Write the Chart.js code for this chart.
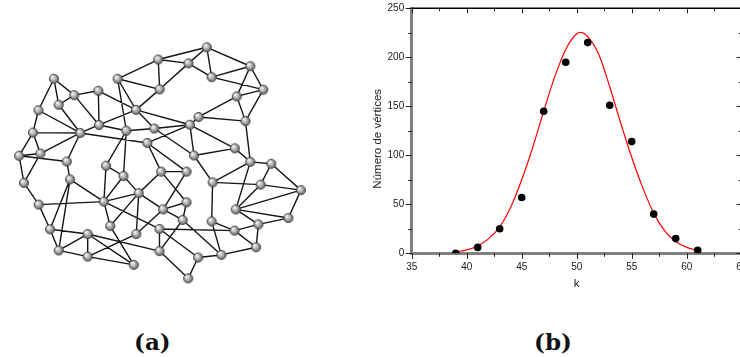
<!DOCTYPE html>
<html><head><meta charset="utf-8">
<script src="https://cdn.jsdelivr.net/npm/chart.js@4.4.1/dist/chart.umd.min.js"></script>
<style>
html,body{margin:0;padding:0;background:#fff;width:740px;height:357px;overflow:hidden;position:relative}
#net{position:absolute;left:0;top:0}
#plot{position:absolute;left:330px;top:0}
.cap{position:absolute;font-family:"DejaVu Serif",serif;font-weight:bold;font-size:23px;line-height:1;color:#111;white-space:nowrap}
</style></head><body>
<canvas id="net" width="330" height="300"></canvas>
<canvas id="plot" width="430" height="300"></canvas>
<div class="cap" style="left:134px;top:330px">(a)</div>
<div class="cap" style="left:534px;top:330px">(b)</div>
<script>
// ---------- (a) network: node layout positions and edge list ----------
const nodeNames = ['A','B','C','D','E','F','G','H','I','J','K','L','M','N','O','P','Q','R','S','T','U','V','W','X','Y','Z',
  'a','b','c','d','e','f','g','h','i','j','k','l','m','n','o','p','q','r','s','t','u','v','w','x','y','z',
  'AA','AB','AC','AD','AE','AF','AG','AH','AI','AJ','AK','AL'];
const nodeX = [50,71,96,55,34,116,158,159.5,135,96.7,77.3,28.3,125,154,146.7,36,14,63.3,104,122,66.7,19,137.8,101.7,34.3,108.3,
  46,85,135.3,55,85,132.7,208.3,189.3,213.3,253.3,266.7,239.3,199.8,248.3,190.8,237.3,195,253.3,275,161,187.3,214.3,264,305.7,163,187.3,
  238.3,183.3,213.3,292.7,159.3,237,261.7,159.3,199.3,223.3,259.3,189];
const nodeY = [76,93,88.5,103,108.7,76,56,87,108.3,124,132.3,132,130,127.7,142.7,153.7,156,162,166.3,177,180.5,184.2,194.8,203.6,206.7,229,
  232.3,237.3,237.3,254.3,260.7,269.3,43.3,60,74.3,63,87.3,94.3,115.7,120,123.8,148.3,155.7,162.3,164.3,172.5,172.5,183.6,186,191.7,211.7,204.3,
  211.7,222.7,224.2,220.7,232,233.7,227.3,255,261.7,259,251,283.3];
const edgeList = ['A-B','A-D','A-E','B-C','B-D','B-J','C-J','C-I','D-K','E-K','E-L','L-K','L-P','L-Q','J-I','J-M','J-K',
  'F-G','F-H','F-I','F-M','H-I','I-N','I-o','K-O','K-R','P-K','M-N','M-S','M-T','N-o','N-q','O-o','O-t','O-u',
  'P-Q','Q-R','Q-V','P-V','R-U','V-Y','U-X','U-a','U-d','Y-X','Y-a','S-T','S-X','X-T','X-W','T-W','X-Z','Z-f','X-AE',
  'W-Z','W-c','W-t','W-y','c-y','a-b','a-d','b-d','b-e','d-e','e-f','b-f','b-AH','e-c',
  'G-g','G-h','G-H','g-h','g-i','g-j','h-i','h-H','i-j','i-k','j-k','j-l','l-k','l-m','k-n','l-n','m-n',
  'o-m','o-q','o-p','q-p','n-r','p-r','q-v','t-u','t-z','u-y','y-z','z-AB','y-AB','v-AC','v-r','v-w',
  'r-AA','r-s','s-w','s-x','w-x','AA-x','AA-w','AA-AD','AA-AG','x-AD','AD-AG','AG-AK','AF-AG','AF-AK','AF-AC',
  'AE-AF','AC-AJ','AJ-AK','AI-AJ','AI-AL','AH-AL','AH-AE','AH-AB','AE-AI','AB-AJ'];

// ---------- (b) degree distribution ----------
const kValues = [39,41,43,45,47,49,51,53,55,57,59,61];
const vertexCounts = [0,6,25,57,145,195,215,151,114,40,15,3];
const fitK = [39,40,41,42,43,44,45,46,47,48,49,50,50.4,51,52,53,54,55,56,57,58,59,60,61];
const fitCounts = [1.5,3.5,7.5,15,27,47,75,108,145,180,208,224,225.5,221,203,170,133,98,67,41,23,12,6,3];
const xTickValues = [35,40,45,50,55,60,65];
const yTickValues = [0,50,100,150,200,250];
const xTitle = 'k';
const yTitle = 'Número de vértices';

// ---------- network chart ----------
function makeNodeSprite(r){
  const s = Math.ceil(r*2+2);
  const c = document.createElement('canvas'); c.width = c.height = s;
  const g = c.getContext('2d'); const cx = s/2, cy = s/2;
  const grad = g.createRadialGradient(cx-r*0.4, cy-r*0.45, r*0.1, cx, cy, r);
  grad.addColorStop(0, '#f7f7f7'); grad.addColorStop(0.45, '#bdbdbd'); grad.addColorStop(1, '#5e5e5e');
  g.beginPath(); g.arc(cx, cy, r, 0, Math.PI*2); g.fillStyle = grad; g.fill();
  g.lineWidth = 0.8; g.strokeStyle = '#3a3a3a'; g.stroke();
  return c;
}
const idx = {}; nodeNames.forEach((n,i)=>{ idx[n] = i; });
const edgeData = [];
edgeList.forEach(e=>{
  const [a,b] = e.split('-'); const i = idx[a], j = idx[b];
  edgeData.push({x:nodeX[i], y:nodeY[i]}, {x:nodeX[j], y:nodeY[j]}, {x:nodeX[j], y:null});
});
const nodeData = nodeX.map((x,i)=>({x, y:nodeY[i]}));

new Chart(document.getElementById('net'), {
  type: 'scatter',
  data: { datasets: [
    { data: nodeData, pointStyle: makeNodeSprite(4.6), pointRadius: 4.6, order: 0 },
    { data: edgeData, showLine: true, spanGaps: false, pointRadius: 0, borderColor: '#151515', borderWidth: 1.4, order: 1 }
  ]},
  options: {
    responsive: false, animation: false, events: [],
    plugins: { legend: { display: false }, tooltip: { enabled: false } },
    layout: { padding: 0 },
    scales: {
      x: { type: 'linear', display: false, min: 0, max: 330 },
      y: { type: 'linear', display: false, min: 0, max: 300, reverse: true }
    }
  }
});

// ---------- distribution chart ----------
const frameTicks = {
  id: 'frameTicks',
  afterDraw(chart){
    const {ctx, chartArea: a, scales: {x, y}} = chart;
    const seg = (x1,y1,x2,y2)=>{ ctx.beginPath(); ctx.moveTo(x1,y1); ctx.lineTo(x2,y2); ctx.stroke(); };
    ctx.save();
    ctx.lineWidth = 1; ctx.strokeStyle = '#222';
    const xt = x.ticks.map(t=>t.value), yt = y.ticks.map(t=>t.value);
    const xs = xt[1]-xt[0], ys = yt[1]-yt[0];
    xt.forEach((v,i)=>{
      const p = Math.round(x.getPixelForValue(v))+0.5;
      seg(p, a.bottom, p, a.bottom+5.5); seg(p, a.top, p, a.top+5);
      if (i < xt.length-1){
        const m = Math.round(x.getPixelForValue(v+xs/2))+0.5;
        seg(m, a.bottom, m, a.bottom+3.5); seg(m, a.top, m, a.top+3);
      }
    });
    yt.forEach((v,i)=>{
      const p = Math.round(y.getPixelForValue(v))+0.5;
      seg(a.left-6, p, a.left, p); seg(a.right-5, p, a.right, p);
      if (i < yt.length-1){
        const m = Math.round(y.getPixelForValue(v+ys/2))+0.5;
        seg(a.left-3.5, m, a.left, m); seg(a.right-3, m, a.right, m);
      }
    });
    ctx.lineWidth = 1.5; ctx.strokeStyle = '#000';
    seg(a.left, a.top, a.right, a.top); seg(a.right, a.top, a.right, a.bottom);
    ctx.restore();
  }
};
const tickFont = { family: '"Liberation Sans", Arial, sans-serif', size: 10 };
const titleFont = { family: '"Liberation Sans", Arial, sans-serif', size: 11.5 };
const noPad = s => { s.paddingTop = 0; s.paddingBottom = 0; s.paddingLeft = 0; s.paddingRight = 0; };

new Chart(document.getElementById('plot'), {
  type: 'scatter',
  data: { datasets: [
    { data: kValues.map((k,i)=>({x:k, y:vertexCounts[i]})), pointRadius: 3.8, backgroundColor: '#000', borderColor: '#000', borderWidth: 0, order: 0 },
    { data: fitK.map((k,i)=>({x:k, y:fitCounts[i]})), showLine: true, pointRadius: 0, borderColor: '#ff0000', borderWidth: 1.2, cubicInterpolationMode: 'monotone', order: 1 }
  ]},
  options: {
    responsive: false, animation: false, events: [],
    plugins: { legend: { display: false }, tooltip: { enabled: false } },
    layout: { padding: { top: 8.3, right: 18.3, left: 0, bottom: 0 } },
    scales: {
      x: {
        type: 'linear', min: 35, max: 65,
        afterBuildTicks: s => { s.ticks = xTickValues.map(v=>({value:v})); },
        afterFit: s => { s.height = 46.7; noPad(s); },
        grid: { display: false, drawTicks: false },
        border: { display: true, color: '#808080', width: 3 },
        ticks: { color: '#1a1a1a', font: tickFont, padding: 7.5, maxRotation: 0, autoSkip: false },
        title: { display: true, text: xTitle, color: '#1a1a1a', font: titleFont, padding: { top: 0, bottom: 9.5 } }
      },
      y: {
        type: 'linear', min: 0, max: 250,
        afterBuildTicks: s => { s.ticks = yTickValues.map(v=>({value:v})); },
        afterFit: s => { s.width = 81.7; noPad(s); },
        grid: { display: false, drawTicks: false },
        border: { display: true, color: '#808080', width: 3 },
        ticks: { color: '#1a1a1a', font: tickFont, padding: 7.5 },
        title: { display: true, text: yTitle + '     ', color: '#1a1a1a', font: titleFont, padding: { top: 40.8, bottom: 0 } }
      }
    }
  },
  plugins: [frameTicks]
});
</script>
</body></html>
